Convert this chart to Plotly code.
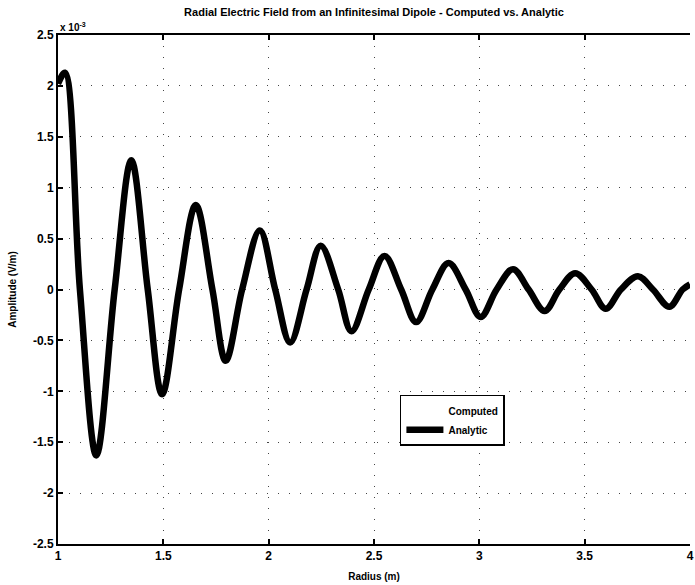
import plotly.graph_objects as go

# Radius (m) at the sampled features of the curve (start, peaks, zero crossings, troughs)
radius_m = [1.000, 1.033, 1.104, 1.182, 1.269, 1.348, 1.426, 1.494, 1.575, 1.654,
            1.733, 1.796, 1.874, 1.958, 2.031, 2.102, 2.180, 2.247, 2.330, 2.393,
            2.475, 2.550, 2.629, 2.700, 2.777, 2.854, 2.935, 3.006, 3.082, 3.160,
            3.234, 3.310, 3.380, 3.455, 3.533, 3.600, 3.672, 3.753, 3.824, 3.902,
            3.965, 4.000]
# Amplitude in units of 1e-3 V/m
amplitude_e3 = [2.02, 2.13, 0.0, -1.63, 0.0, 1.27, 0.0, -1.03, 0.0, 0.83,
                0.0, -0.70, 0.0, 0.58, 0.0, -0.52, 0.0, 0.43, 0.0, -0.41,
                0.0, 0.33, 0.0, -0.32, 0.0, 0.26, 0.0, -0.27, 0.0, 0.20,
                0.0, -0.21, 0.0, 0.16, 0.0, -0.19, 0.0, 0.13, 0.0, -0.17,
                0.0, 0.05]

x_ticks = [1, 1.5, 2, 2.5, 3, 3.5, 4]
x_ticklabels = ["1", "1.5", "2", "2.5", "3", "3.5", "4"]
y_ticks = [-2.5, -2, -1.5, -1, -0.5, 0, 0.5, 1, 1.5, 2, 2.5]
y_ticklabels = ["-2.5", "-2", "-1.5", "-1", "-0.5", "0", "0.5", "1", "1.5", "2", "2.5"]

title_text = "Radial Electric Field from an Infinitesimal Dipole - Computed vs. Analytic"
FONT = "Liberation Sans, Arial, sans-serif"

fig = go.Figure()
fig.add_trace(go.Scatter(
    x=radius_m, y=amplitude_e3, mode="lines", name="Computed",
    line=dict(color="rgba(0,0,0,0)", width=1, shape="spline", smoothing=1.0),
    hoverinfo="skip"))
fig.add_trace(go.Scatter(
    x=radius_m, y=amplitude_e3, mode="lines", name="Analytic",
    line=dict(color="black", width=6.5, shape="spline", smoothing=1.0)))

axis_common = dict(
    showline=True, linecolor="black", linewidth=2,
    ticks="inside", ticklen=5, tickwidth=2, tickcolor="black",
    showgrid=True, gridcolor="#444", gridwidth=1, griddash="1px,10px",
    zeroline=False,
    ticklabeloverflow="allow",
    tickfont=dict(family=FONT, size=12, color="black", weight="bold"),
)

fig.update_layout(
    width=695, height=585,
    margin=dict(l=58, r=1, t=35, b=41),
    paper_bgcolor="white", plot_bgcolor="white",
    font=dict(family=FONT, color="black"),
    title=dict(text=title_text, x=0.5, xref="paper", xanchor="center",
               y=1 - 12 / 585, yref="container", yanchor="middle",
               font=dict(family=FONT, size=11, color="black", weight="bold")),
    xaxis=dict(range=[1, 4], tickvals=x_ticks, ticktext=x_ticklabels,
               mirror="ticks",
               title=dict(text="Radius (m)", standoff=11,
                          font=dict(family=FONT, size=10, color="black", weight="bold")),
               **axis_common),
    yaxis=dict(range=[-2.5, 2.5], tickvals=y_ticks, ticktext=y_ticklabels,
               mirror=False,
               title=dict(text="Amplitude (V/m)", standoff=14,
                          font=dict(family=FONT, size=10, color="black", weight="bold")),
               **axis_common),
    showlegend=True,
    legend=dict(x=0.541, y=0.293, xanchor="left", yanchor="top",
                bgcolor="white", bordercolor="black", borderwidth=1.5,
                itemwidth=37, tracegroupgap=0,
                font=dict(family=FONT, size=10, color="black", weight="bold")),
    annotations=[dict(text="x 10<sup>-3</sup>", xref="paper", yref="paper",
                      x=0, y=1, xanchor="left", yanchor="bottom", yshift=0,
                      showarrow=False,
                      font=dict(family=FONT, size=10, color="black", weight="bold"))],
)

fig.write_html("out.html")
